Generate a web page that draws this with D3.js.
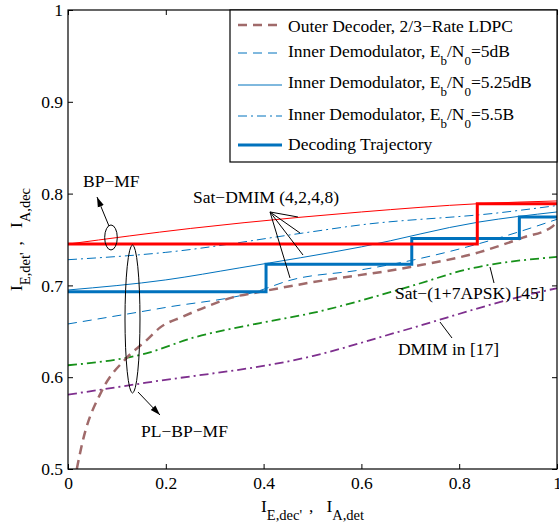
<!DOCTYPE html>
<html>
<head>
<meta charset="utf-8">
<script src="https://cdnjs.cloudflare.com/ajax/libs/d3/7.8.5/d3.min.js"></script>
<style>
body { margin: 0; background: #fff; }
svg text { font-family: "Liberation Serif", "Times New Roman", serif; font-size: 17.5px; fill: #000; }
.sub { font-size: 13px; }
.lsub { font-size: 14.5px; }
</style>
</head>
<body>
<svg id="chart" width="559" height="525"></svg>
<script>
// axis ticks
var xTicks = [0, 0.2, 0.4, 0.6, 0.8, 1];
var xTickLabels = ["0", "0.2", "0.4", "0.6", "0.8", "1"];
var yTicks = [0.5, 0.6, 0.7, 0.8, 0.9, 1];
var yTickLabels = ["0.5", "0.6", "0.7", "0.8", "0.9", "1"];

// EXIT curves, [x, y]
var outerDecoder = [[0.018,0.5],[0.03,0.53],[0.069,0.585],[0.12,0.621],[0.162,0.641],[0.188,0.654],[0.235,0.666],[0.284,0.677],[0.337,0.687],[0.393,0.693],[0.495,0.703],[0.7,0.72],[0.84,0.736],[0.93,0.752],[0.99,0.764],[1,0.769]];
var inner5dB = [[0,0.658],[0.2,0.676],[0.39,0.694],[0.45,0.705],[0.6,0.717],[0.7,0.727],[0.92,0.758],[1,0.772]];
var inner525dB = [[0,0.695],[0.2,0.706],[0.35,0.719],[0.6,0.742],[0.84,0.769],[1,0.78]];
var inner55dB = [[0,0.728],[0.2,0.736],[0.48,0.757],[0.6,0.766],[0.88,0.779],[1,0.787]];
var bpmfInner = [[0,0.745],[0.25,0.762],[0.47,0.774],[0.6,0.78],[0.84,0.789],[1,0.792]];
var apsk = [[0,0.613],[0.16,0.626],[0.256,0.643],[0.393,0.659],[0.5,0.67],[0.7,0.699],[0.82,0.718],[1,0.731]];
var dmim17 = [[0,0.581],[0.16,0.594],[0.5,0.623],[0.68,0.65],[0.95,0.691],[1,0.697]];

// decoding trajectories (step after)
var trajBlue = [[0,0.693],[0.405,0.723],[0.703,0.751],[0.923,0.7745],[1,0.7745]];
var trajRed = [[0,0.745],[0.837,0.789],[1,0.789]];

var legendLabels = [
	["Outer Decoder, 2/3\u2212Rate LDPC"],
	["Inner Demodulator, E", "b", "/N", "0", "=5dB"],
	["Inner Demodulator, E", "b", "/N", "0", "=5.25dB"],
	["Inner Demodulator, E", "b", "/N", "0", "=5.5B"],
	["Decoding Trajectory"]
];

var svg = d3.select("#chart");
var plotLeft = 68, plotRight = 557, plotTop = 10, plotBottom = 469;

var x = d3.scaleLinear().domain([0, 1]).range([plotLeft, plotRight]);
var y = d3.scaleLinear().domain([0.5, 1]).range([plotBottom, plotTop]);

var defs = svg.append("defs");
defs.append("clipPath").attr("id", "plotclip")
	.append("rect").attr("x", plotLeft).attr("y", plotTop)
	.attr("width", plotRight - plotLeft).attr("height", plotBottom - plotTop);
defs.append("marker")
	.attr("id", "arrow")
	.attr("viewBox", "0 0 10 10")
	.attr("refX", 10).attr("refY", 5)
	.attr("markerUnits", "userSpaceOnUse")
	.attr("markerWidth", 10).attr("markerHeight", 10)
	.attr("orient", "auto")
	.append("path").attr("d", "M0,1.8L10,5L0,8.2z").attr("fill", "#000");

// axes, inward ticks on all four sides
function styleAxis(g) {
	g.select(".domain").remove();
	g.selectAll(".tick line").attr("stroke", "#000");
	g.attr("font-size", null).attr("font-family", null);
}
svg.append("g").attr("transform", "translate(0," + plotBottom + ")")
	.call(d3.axisBottom(x).tickValues(xTicks).tickSize(-5).tickPadding(8)
		.tickFormat(function(d, i) { return xTickLabels[i]; }))
	.call(styleAxis);
svg.append("g").attr("transform", "translate(" + plotLeft + ",0)")
	.call(d3.axisLeft(y).tickValues(yTicks).tickSize(-5).tickPadding(5)
		.tickFormat(function(d, i) { return yTickLabels[i]; }))
	.call(styleAxis);
svg.append("g").attr("transform", "translate(0," + plotTop + ")")
	.call(d3.axisTop(x).tickValues(xTicks).tickSize(-5).tickFormat(""))
	.call(styleAxis);
svg.append("g").attr("transform", "translate(" + plotRight + ",0)")
	.call(d3.axisRight(y).tickValues(yTicks).tickSize(-5).tickFormat(""))
	.call(styleAxis);

var plot = svg.append("g").attr("clip-path", "url(#plotclip)");

var smooth = d3.line().x(function(d) { return x(d[0]); }).y(function(d) { return y(d[1]); }).curve(d3.curveMonotoneX);
var steps = d3.line().x(function(d) { return x(d[0]); }).y(function(d) { return y(d[1]); }).curve(d3.curveStepAfter);

var series = [
	{ data: apsk, color: "#17911a", width: 1.8, dash: "9,4,2,4" },
	{ data: dmim17, color: "#7e2f8e", width: 1.8, dash: "9,4,2,4" },
	{ data: inner5dB, color: "#0072bd", width: 1, dash: "9,6" },
	{ data: inner525dB, color: "#0072bd", width: 1, dash: null },
	{ data: inner55dB, color: "#0072bd", width: 1, dash: "9,4,2,4" },
	{ data: bpmfInner, color: "#ff0000", width: 1, dash: null },
	{ data: outerDecoder, color: "#a06a6a", width: 2.5, dash: "9,6" }
];

plot.selectAll(".curve").data(series).enter().append("path")
	.attr("class", "curve")
	.attr("d", function(d) { return smooth(d.data); })
	.attr("fill", "none")
	.attr("stroke", function(d) { return d.color; })
	.attr("stroke-width", function(d) { return d.width; })
	.attr("stroke-dasharray", function(d) { return d.dash; });

plot.append("path").attr("d", steps(trajBlue))
	.attr("fill", "none").attr("stroke", "#0072bd").attr("stroke-width", 3);
plot.append("path").attr("d", steps(trajRed))
	.attr("fill", "none").attr("stroke", "#ff0000").attr("stroke-width", 3);

// frame
svg.append("rect").attr("x", plotLeft).attr("y", plotTop)
	.attr("width", plotRight - plotLeft).attr("height", plotBottom - plotTop)
	.attr("fill", "none").attr("stroke", "#000").attr("stroke-width", 1.2);

// annotations
var ann = svg.append("g");
function line(x1, y1, x2, y2, arrow) {
	var l = ann.append("line")
		.attr("x1", x(x1)).attr("y1", y(y1)).attr("x2", x(x2)).attr("y2", y(y2))
		.attr("stroke", "#000").attr("stroke-width", 1);
	if (arrow) l.attr("marker-end", "url(#arrow)");
}
function label(tx, ty, str) {
	ann.append("text").attr("x", x(tx)).attr("y", y(ty)).text(str);
}

ann.append("ellipse").attr("cx", x(0.0879)).attr("cy", y(0.7522)).attr("rx", 6.3).attr("ry", 12.5)
	.attr("fill", "none").attr("stroke", "#000");
ann.append("ellipse").attr("cx", x(0.1319)).attr("cy", y(0.6634)).attr("rx", 7.5).attr("ry", 74)
	.attr("fill", "none").attr("stroke", "#000");
line(0.0838, 0.7647, 0.0593, 0.7963, true);
line(0.1431, 0.5839, 0.1881, 0.5588, true);
label(0.0307, 0.8072, "BP\u2212MF");
label(0.1493, 0.5349, "PL\u2212BP\u2212MF");

label(0.2556, 0.7898, "Sat\u2212DMIM (4,2,4,8)");
line(0.4131, 0.780, 0.4703, 0.7745);
line(0.4131, 0.780, 0.4744, 0.7571);
line(0.4131, 0.780, 0.4806, 0.7331);
line(0.4131, 0.780, 0.454, 0.7081);

label(0.6687, 0.6852, "Sat\u2212(1+7APSK) [45]");
line(0.863, 0.72, 0.8712, 0.7026);
label(0.6748, 0.6242, "DMIM in [17]");
line(0.7607, 0.6601, 0.7853, 0.6427);

// axis labels, centred on the axes
var xl = svg.append("text").attr("x", (plotLeft + plotRight) / 2).attr("y", 512).attr("text-anchor", "middle");
xl.append("tspan").text("I");
xl.append("tspan").attr("class", "lsub").attr("dy", 8).text("E,dec'");
xl.append("tspan").attr("dy", -8).attr("dx", 7).text(",");
xl.append("tspan").attr("dx", 13).text("I");
xl.append("tspan").attr("class", "lsub").attr("dy", 8).text("A,det");

var yl = svg.append("text")
	.attr("transform", "translate(22," + (plotTop + plotBottom) / 2 + ") rotate(-90)")
	.attr("text-anchor", "middle");
yl.append("tspan").text("I");
yl.append("tspan").attr("class", "lsub").attr("dy", 8).text("E,det'");
yl.append("tspan").attr("dy", -8).attr("dx", 7).text(",");
yl.append("tspan").attr("dx", 13).text("I");
yl.append("tspan").attr("class", "lsub").attr("dy", 8).text("A,dec");

// legend
var leg = svg.append("g");
leg.append("rect").attr("x", 230).attr("y", 10).attr("width", 327).attr("height", 152)
	.attr("fill", "#fff").attr("stroke", "#000").attr("stroke-width", 1.2);
var legRows = [
	{ ly: 25, by: 32, color: "#a06a6a", width: 2.5, dash: "9,6" },
	{ ly: 53, by: 57, color: "#0072bd", width: 1, dash: "9,6" },
	{ ly: 85, by: 88, color: "#0072bd", width: 1, dash: null },
	{ ly: 116, by: 120, color: "#0072bd", width: 1, dash: "9,4,2,4" },
	{ ly: 145, by: 150, color: "#0072bd", width: 3, dash: null }
];
legRows.forEach(function(r, i) {
	leg.append("line").attr("x1", 238).attr("x2", 282).attr("y1", r.ly).attr("y2", r.ly)
		.attr("stroke", r.color).attr("stroke-width", r.width).attr("stroke-dasharray", r.dash);
	var t = leg.append("text").attr("x", 288).attr("y", r.by);
	var parts = legendLabels[i];
	t.append("tspan").text(parts[0]);
	if (parts.length > 1) {
		t.append("tspan").attr("class", "sub").attr("dy", 8).text(parts[1]);
		t.append("tspan").attr("dy", -8).text(parts[2]);
		t.append("tspan").attr("class", "sub").attr("dy", 8).text(parts[3]);
		t.append("tspan").attr("dy", -8).text(parts[4]);
	}
});
</script>
</body>
</html>
